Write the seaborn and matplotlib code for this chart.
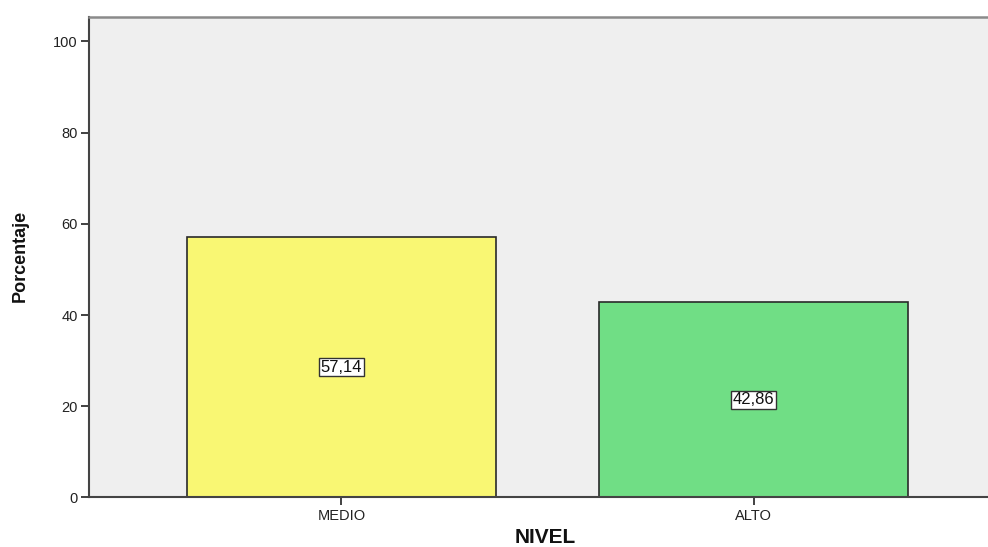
import matplotlib
matplotlib.use("Agg")
import matplotlib.pyplot as plt
import seaborn as sns
import pandas as pd

# Percentage of respondents by level
niveles = ["MEDIO", "ALTO"]
porcentajes = [57.14, 42.86]
colores = ["#F9F773", "#70DE85"]
yticks = [0, 20, 40, 60, 80, 100]

df = pd.DataFrame({"NIVEL": niveles, "Porcentaje": porcentajes})

sns.set_theme(style="white")
plt.rcParams["font.family"] = ["Liberation Sans", "DejaVu Sans"]

fig = plt.figure(figsize=(9.88, 5.47), dpi=100)
ax = fig.add_axes([0.0901, 0.0905, 0.915, 0.878])
ax.set_facecolor("#EFEFEF")

sns.barplot(data=df, x="NIVEL", y="Porcentaje", hue="NIVEL", palette=colores,
            saturation=1, width=0.75, edgecolor="#2a2a2a", linewidth=1.2,
            legend=False, ax=ax)

ax.set_xlim(-0.612, 1.58)
ax.set_ylim(0, 105.3)
ax.set_yticks(yticks)
ax.set_yticklabels([str(t) for t in yticks])

# value labels in the middle of each bar
for i, v in enumerate(porcentajes):
    ax.text(i, v / 2, f"{v:.2f}".replace(".", ","), ha="center", va="center",
            fontsize=12, color="#111111",
            bbox=dict(boxstyle="square,pad=0.1", facecolor="white",
                      edgecolor="#333333", linewidth=1.0))

for side in ["left", "bottom"]:
    ax.spines[side].set_color("#444444")
    ax.spines[side].set_linewidth(1.5)
ax.spines["top"].set_color("#8a8a8a")
ax.spines["top"].set_linewidth(1.8)
ax.spines["right"].set_visible(False)

ax.tick_params(axis="both", direction="out", length=6, width=1.3,
               color="#333333", labelsize=10.5, labelcolor="#222222", pad=2)
ax.tick_params(axis="y", left=True)
ax.tick_params(axis="x", bottom=True, labelsize=10.5)

ax.set_xlabel("")
ax.set_ylabel("")
fig.text(0.552, 0.007, "NIVEL", ha="center", va="baseline",
         fontsize=15, fontweight="bold", color="#111111")
fig.text(0.021, 0.532, "Porcentaje", ha="center", va="center", rotation=90,
         fontsize=13, fontweight="bold", color="#111111")

fig.savefig("out.png", dpi=100)
